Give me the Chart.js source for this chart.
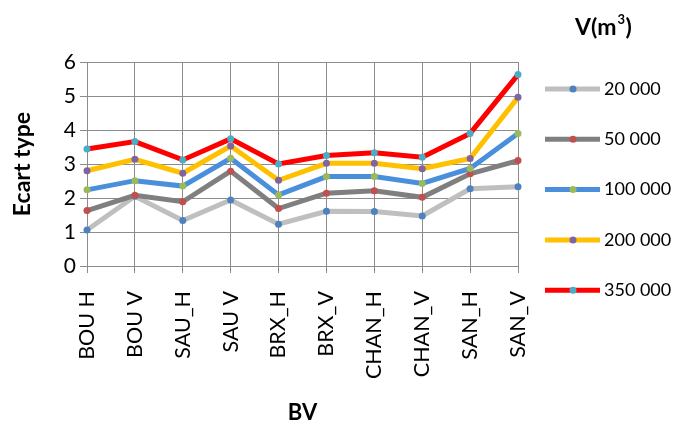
<!DOCTYPE html>
<html>
<head>
<meta charset="utf-8">
<script src="https://cdn.jsdelivr.net/npm/chart.js@4"></script>
<style>
  html, body { margin: 0; padding: 0; background: #fff; }
  #wrap { width: 674px; height: 432px; position: relative; }
</style>
</head>
<body>
<div id="wrap"><canvas id="c" width="674" height="432"></canvas></div>
<script>
// Bassins versants (BV)
const categories = ['BOU H', 'BOU V', 'SAU_H', 'SAU V', 'BRX_H', 'BRX_V', 'CHAN_H', 'CHAN_V', 'SAN_H', 'SAN_V'];

// Écart type par volume V (m³)
const v20000  = [1.06, 2.05, 1.34, 1.94, 1.23, 1.61, 1.60, 1.47, 2.27, 2.33];
const v50000  = [1.63, 2.08, 1.89, 2.79, 1.69, 2.14, 2.21, 2.02, 2.71, 3.10];
const v100000 = [2.24, 2.51, 2.35, 3.17, 2.09, 2.63, 2.63, 2.43, 2.87, 3.90];
const v200000 = [2.80, 3.14, 2.73, 3.53, 2.52, 3.02, 3.02, 2.86, 3.16, 4.96];
const v350000 = [3.44, 3.66, 3.12, 3.74, 3.00, 3.25, 3.33, 3.20, 3.90, 5.63];

const seriesLabels = ['20 000', '50 000', '100 000', '200 000', '350 000'];
const yTicks = [0, 1, 2, 3, 4, 5, 6];

const FONT = 'Lato, "Open Sans", sans-serif';

const styles = [
  { line: '#BFBFBF', dot: '#4F81BD' },
  { line: '#7F7F7F', dot: '#C0504D' },
  { line: '#4A8FDB', dot: '#9BBB59' },
  { line: '#FFC000', dot: '#8064A2' },
  { line: '#FF0000', dot: '#4BACC6' }
];

const seriesValues = [v20000, v50000, v100000, v200000, v350000];

const datasets = seriesValues.map((vals, i) => ({
  label: seriesLabels[i],
  data: vals,
  borderColor: styles[i].line,
  backgroundColor: styles[i].dot,
  pointBackgroundColor: styles[i].dot,
  pointBorderColor: styles[i].dot,
  borderWidth: 5,
  pointRadius: 3.5,
  pointBorderWidth: 0,
  tension: 0,
  order: seriesValues.length - i
}));

// Legend drawn on the right: a thick line with a centered dot, then the label
const sideLegend = {
  id: 'sideLegend',
  afterDraw(chart) {
    const ctx = chart.ctx;
    ctx.save();
    ctx.fillStyle = '#000';
    ctx.font = 'bold 23px ' + FONT;
    ctx.textAlign = 'left';
    ctx.textBaseline = 'middle';
    const x0 = 575;
    ctx.fillText('V(m', x0, 28);
    const w = ctx.measureText('V(m').width;
    ctx.font = 'bold 13px ' + FONT;
    ctx.fillText('3', x0 + w + 1, 20);
    ctx.font = 'bold 23px ' + FONT;
    ctx.fillText(')', x0 + w + 9, 28);

    chart.data.datasets.forEach((ds, i) => {
      const y = 89 + i * 50.3;
      ctx.strokeStyle = ds.borderColor;
      ctx.lineWidth = 5;
      ctx.beginPath();
      ctx.moveTo(545, y);
      ctx.lineTo(600, y);
      ctx.stroke();
      ctx.fillStyle = ds.pointBackgroundColor;
      ctx.beginPath();
      ctx.arc(573, y, 3.5, 0, Math.PI * 2);
      ctx.fill();
      ctx.fillStyle = '#000';
      ctx.font = '18px ' + FONT;
      ctx.textAlign = 'left';
      ctx.textBaseline = 'middle';
      ctx.fillText(ds.label, 604, y);
    });
    ctx.restore();
  }
};

new Chart(document.getElementById('c'), {
  type: 'line',
  data: { labels: categories, datasets },
  plugins: [sideLegend],
  options: {
    responsive: false,
    animation: false,
    layout: { padding: { top: 62, right: 156, left: 0, bottom: 0 } },
    plugins: { legend: { display: false }, tooltip: { enabled: false } },
    scales: {
      x: {
        offset: false,
        grid: { color: '#8C8C8C', lineWidth: 1, tickLength: 7, drawTicks: true },
        border: { color: '#8C8C8C' },
        ticks: {
          color: '#000',
          font: { family: FONT, size: 21.5 },
          minRotation: 90,
          maxRotation: 90,
          autoSkip: false,
          padding: 18
        },
        title: {
          display: true,
          text: 'BV',
          color: '#000',
          font: { family: FONT, size: 22, weight: 'bold' },
          padding: { top: 0, bottom: 6 }
        },
        afterFit(scale) { scale.height = 166; }
      },
      y: {
        min: 0,
        max: 6,
        afterBuildTicks(scale) { scale.ticks = yTicks.map(v => ({ value: v })); },
        grid: { color: '#8C8C8C', lineWidth: 1, tickLength: 7 },
        border: { color: '#8C8C8C' },
        ticks: {
          color: '#000',
          font: { family: FONT, size: 21 },
          padding: 4
        },
        title: {
          display: true,
          text: 'Ecart type',
          color: '#000',
          font: { family: FONT, size: 23, weight: 'bold' },
          padding: { top: 9, bottom: 6 }
        },
        afterFit(scale) { scale.width = 87; }
      }
    }
  }
});
</script>
</body>
</html>
